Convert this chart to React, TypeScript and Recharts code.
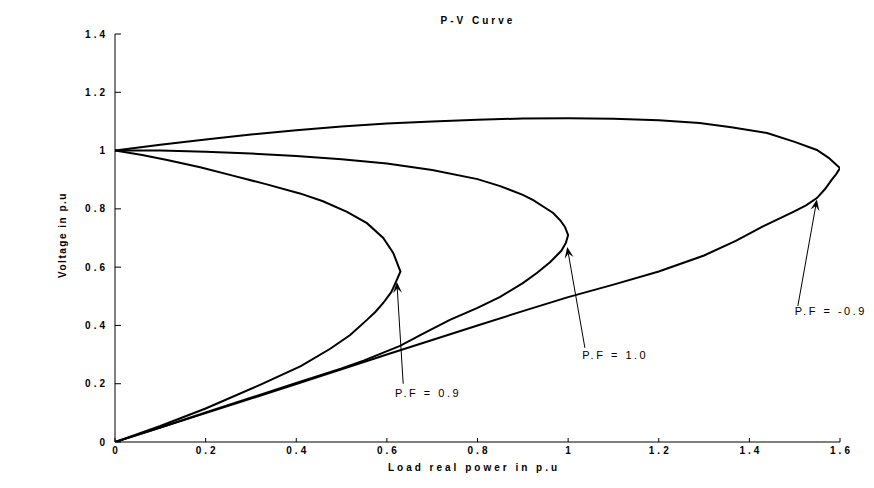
import React from 'react';
import { LineChart, Line, XAxis, YAxis, ReferenceLine, ReferenceDot } from 'recharts';

const xTicks = [0, 0.2, 0.4, 0.6, 0.8, 1, 1.2, 1.4, 1.6];
const yTicks = [0, 0.2, 0.4, 0.6, 0.8, 1, 1.2, 1.4];

// [load power, voltage], upper branch first
const pf09Curve: [number, number][] = [
  [0, 1], [0.06, 0.985], [0.115, 0.968], [0.188, 0.943], [0.26, 0.914], [0.335, 0.884],
  [0.408, 0.853], [0.459, 0.826], [0.512, 0.79], [0.556, 0.751],
  [0.592, 0.7], [0.614, 0.649], [0.627, 0.597], [0.63, 0.585],
  [0.622, 0.556], [0.61, 0.515], [0.592, 0.477], [0.575, 0.447], [0.556, 0.419],
  [0.519, 0.367], [0.475, 0.32], [0.41, 0.26], [0.32, 0.196], [0.2, 0.115],
  [0.1, 0.055], [0, 0],
];

const pf10Curve: [number, number][] = [
  [0, 1], [0.1, 1.0], [0.2, 0.996], [0.3, 0.99], [0.4, 0.981], [0.5, 0.97],
  [0.6, 0.956], [0.7, 0.933], [0.8, 0.902], [0.85, 0.878], [0.9, 0.848], [0.923, 0.83],
  [0.95, 0.803], [0.967, 0.786], [0.983, 0.76], [0.993, 0.738], [1.0, 0.71],
  [0.995, 0.683], [0.985, 0.656], [0.96, 0.617], [0.931, 0.58], [0.9, 0.545],
  [0.85, 0.498], [0.8, 0.46], [0.739, 0.419], [0.68, 0.372], [0.629, 0.33],
  [0.55, 0.28], [0.5, 0.252], [0.4, 0.203], [0.3, 0.152], [0.2, 0.101], [0.1, 0.05], [0, 0],
];

const pfLeadCurve: [number, number][] = [
  [0, 1], [0.1, 1.02], [0.2, 1.038], [0.3, 1.055], [0.4, 1.07], [0.5, 1.083],
  [0.6, 1.093], [0.7, 1.1], [0.8, 1.106], [0.9, 1.11], [1.0, 1.111], [1.1, 1.109],
  [1.2, 1.104], [1.29, 1.095], [1.36, 1.08], [1.439, 1.06], [1.5, 1.03], [1.549, 1.002],
  [1.575, 0.975], [1.593, 0.95], [1.6, 0.94], [1.592, 0.92], [1.582, 0.9],
  [1.567, 0.868], [1.549, 0.837], [1.525, 0.812], [1.497, 0.79], [1.43, 0.74],
  [1.37, 0.69], [1.3, 0.64], [1.2, 0.585], [1.1, 0.54], [1.0, 0.497],
  [0.9, 0.449], [0.8, 0.4], [0.6, 0.3], [0.4, 0.199], [0.2, 0.099], [0, 0],
];

const curves = [pf09Curve, pf10Curve, pfLeadCurve].map((c) => c.map(([p, v]) => ({ p, v })));

const arrowLabels = ['P.F = 0.9', 'P.F = 1.0', 'P.F = -0.9'];
const arrowTails: [number, number][] = [[0.636, 0.2], [1.037, 0.323], [1.507, 0.467]];
const arrowTips: [number, number][] = [[0.622, 0.549], [0.998, 0.669], [1.549, 0.832]];
const labelAnchors: [number, number][] = [[0.618, 0.168], [1.031, 0.299], [1.5, 0.45]];

const FONT = '"Liberation Sans", Arial, sans-serif';

const Arrow = (props: any) => {
  const { x1, y1, x2, y2 } = props;
  const ang = Math.atan2(y2 - y1, x2 - x1);
  const len = 11;
  const half = 4.5;
  const bx = x2 - len * Math.cos(ang);
  const by = y2 - len * Math.sin(ang);
  const nx = x2 - len * 0.6 * Math.cos(ang);
  const ny = y2 - len * 0.6 * Math.sin(ang);
  const px = -Math.sin(ang) * half;
  const py = Math.cos(ang) * half;
  return (
    <g>
      <line x1={x1} y1={y1} x2={nx} y2={ny} stroke="#000" strokeWidth={1} />
      <polygon
        points={`${x2},${y2} ${bx + px},${by + py} ${nx},${ny} ${bx - px},${by - py}`}
        fill="#000"
      />
    </g>
  );
};

const YTick = ({ x, y, payload }: any) => (
  <text x={x} y={y} dy="0.35em" textAnchor="end" fill="#000" fontSize={10}
    fontWeight="bold" fontFamily={FONT} letterSpacing={3}>
    {String(payload.value)}
  </text>
);

const XTick = ({ x, y, payload }: any) => (
  <text x={x + 1.5} y={y} dy="0.71em" textAnchor="middle" fill="#000" fontSize={10}
    fontWeight="bold" fontFamily={FONT} letterSpacing={3}>
    {String(payload.value)}
  </text>
);

export default function App() {
  return (
    <div style={{ position: 'absolute', left: 0, top: 0, width: 874, height: 488, background: '#fff' }}>
      <div style={{ position: 'absolute', left: 0, top: 15, width: 956, textAlign: 'center',
        fontFamily: FONT, fontSize: 10, fontWeight: 'bold', letterSpacing: 3, color: '#000' }}>
        P-V Curve
      </div>
      <LineChart width={874} height={488} margin={{ top: 34, right: 34, left: 0, bottom: 0 }}>
        <XAxis
          type="number"
          dataKey="p"
          domain={[0, 1.6]}
          ticks={xTicks}
          allowDataOverflow
          height={46}
          tickSize={-4}
          tickMargin={9}
          tick={<XTick />}
          axisLine={{ stroke: '#000', strokeWidth: 1 }}
          tickLine={{ stroke: '#000' }}
          label={(p: any) => {
            const vb = p.viewBox;
            return (
              <text x={vb.x + 359} y={vb.y + 29} textAnchor="middle" fill="#000" fontSize={10}
                fontWeight="bold" fontFamily={FONT} letterSpacing={3}>
                Load real power in p.u
              </text>
            );
          }}
        />
        <YAxis
          type="number"
          dataKey="v"
          domain={[0, 1.4]}
          ticks={yTicks}
          allowDataOverflow
          width={115}
          tickSize={-6}
          tickMargin={13}
          tick={<YTick />}
          axisLine={{ stroke: '#000', strokeWidth: 1 }}
          tickLine={{ stroke: '#000' }}
          label={() => (
            <text x={66} y={235} transform="rotate(-90 66 235)" textAnchor="middle" fill="#000"
              fontSize={10} fontWeight="bold" fontFamily={FONT} letterSpacing={1.5}>
              Voltage in p.u
            </text>
          )}
        />
        {curves.map((data, i) => (
          <Line
            key={i}
            data={data}
            dataKey="v"
            type="linear"
            stroke="#000"
            strokeWidth={2}
            dot={false}
            activeDot={false}
            isAnimationActive={false}
          />
        ))}
        {arrowLabels.map((lab, i) => (
          <ReferenceLine
            key={`a${i}`}
            segment={[
              { x: arrowTails[i][0], y: arrowTails[i][1] },
              { x: arrowTips[i][0], y: arrowTips[i][1] },
            ]}
            shape={(p: any) => <Arrow {...p} />}
          />
        ))}
        {arrowLabels.map((lab, i) => (
          <ReferenceDot
            key={`t${i}`}
            x={labelAnchors[i][0]}
            y={labelAnchors[i][1]}
            shape={(p: any) => (
              <text x={p.cx} y={p.cy} dy="0.35em" fill="#000" fontSize={11}
                fontFamily={FONT} letterSpacing={2.5}>
                {lab}
              </text>
            )}
          />
        ))}
      </LineChart>
    </div>
  );
}
